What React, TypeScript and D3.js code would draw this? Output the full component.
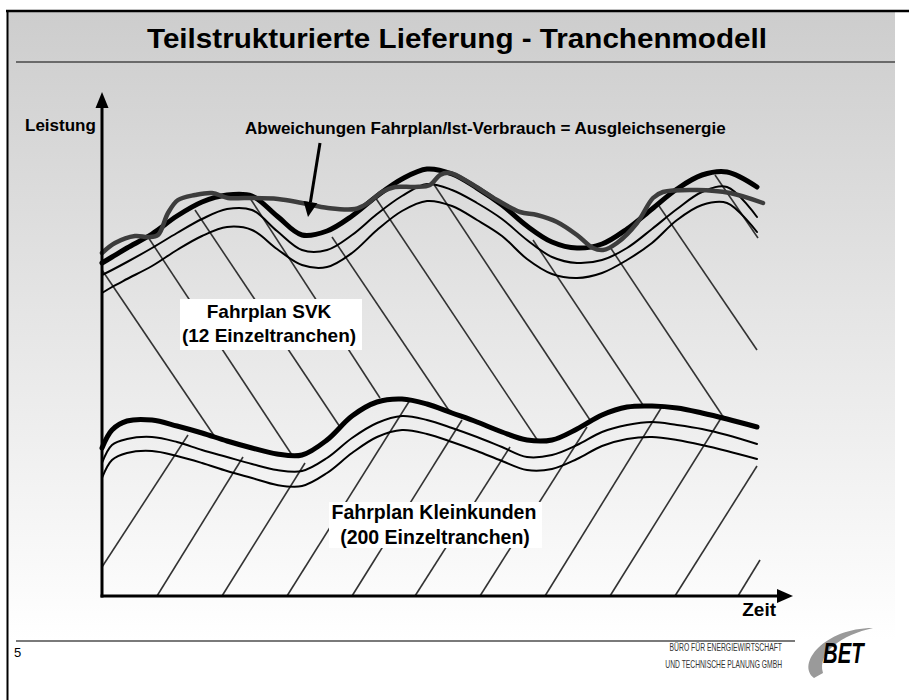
import * as d3 from 'd3'

// gemeinsame Stützstellen der Fahrplankurven (Zeit, willkürliche Einheiten)
const zeit = [0, 1, 2.5, 5, 7.5, 10, 12.5, 15, 17.5, 20, 22.5, 25, 27.5, 30, 32.5, 35, 37.5, 40, 42.5, 45, 47.5, 50, 52.5, 55, 57.5, 60, 62.5, 65.5]

// Fahrplan SVK: Summenlinie und zwei Tranchengrenzen darunter
const svkSumme = [33.3, 33.9, 34.8, 36.2, 38.0, 39.4, 40.1, 40.0, 38.0, 36.1, 36.5, 38.0, 40.0, 41.7, 42.7, 42.2, 40.8, 39.1, 37.0, 35.4, 34.8, 35.2, 36.7, 38.7, 40.7, 42.1, 42.4, 40.9]
const svkTrancheA = [32.1, 32.6, 33.4, 34.8, 36.3, 37.7, 38.7, 38.6, 36.5, 34.6, 34.6, 36.1, 38.2, 40.0, 41.2, 40.6, 39.3, 37.7, 35.6, 33.9, 33.3, 33.6, 34.8, 36.7, 38.7, 40.4, 40.9, 37.9]
const svkTrancheB = [30.3, 30.9, 31.7, 33.0, 34.6, 36.0, 36.9, 36.6, 34.7, 33.1, 32.9, 34.3, 36.6, 38.5, 39.5, 39.0, 37.6, 36.0, 33.7, 32.2, 31.8, 32.3, 33.6, 35.3, 37.6, 39.1, 39.3, 36.4]

// Fahrplan Kleinkunden
const kkSumme = [14.8, 16.6, 17.5, 17.6, 17.0, 16.3, 15.5, 14.8, 14.2, 14.1, 15.6, 18.0, 19.4, 19.7, 19.2, 18.3, 17.4, 16.4, 15.6, 15.6, 16.7, 18.1, 18.9, 19.0, 18.8, 18.3, 17.7, 16.9]
const kkTrancheA = [13.3, 15.1, 15.7, 15.9, 15.4, 14.6, 13.9, 13.2, 12.6, 12.5, 13.8, 15.8, 17.3, 18.0, 17.6, 16.8, 15.9, 14.9, 13.9, 14.1, 15.1, 16.4, 17.1, 17.4, 17.1, 16.7, 16.1, 15.2]
const kkTrancheB = [11.8, 13.6, 14.3, 14.5, 14.0, 13.3, 12.5, 11.8, 11.1, 11.0, 12.3, 14.3, 15.9, 16.6, 16.2, 15.4, 14.5, 13.5, 12.6, 12.7, 13.7, 15.0, 15.7, 15.9, 15.6, 15.1, 14.5, 13.7]

// Ist-Verbrauch (eigene Stützstellen)
const istZeit = [0, 1.3, 3.3, 4.6, 5.6, 6.6, 7.6, 9.3, 11.0, 12.6, 14.3, 17.6, 20.0, 22.6, 25.3, 26.6, 28.0, 29.3, 31.3, 32.8, 33.8, 34.8, 36.8, 39.5, 41.8, 43.5, 45.5, 47.5, 49.1, 50.1, 51.5, 53.5, 55.1, 56.1, 59.5, 62.8, 66.1]
const istLeistung = [34.3, 35.3, 36.0, 35.9, 36.1, 38.3, 39.6, 40.1, 40.3, 39.8, 39.8, 39.7, 39.3, 38.8, 38.7, 39.3, 40.4, 40.9, 40.9, 41.1, 42.1, 42.3, 41.3, 39.6, 38.4, 38.1, 37.4, 36.1, 34.8, 34.6, 35.3, 37.3, 39.8, 40.4, 40.6, 40.3, 39.3]

// Schraffur: [zeitVon, leistungVon, zeitBis, leistungBis]
const svkSchraffur = [
  [0, 32.6, 11.3, 15.9],
  [4.6, 35.9, 19.0, 14.1],
  [9.3, 38.6, 23.8, 16.9],
  [14.6, 40.1, 27.8, 19.8],
  [23.0, 35.9, 34.8, 18.4],
  [27.3, 39.9, 43.6, 15.5],
  [33.1, 41.3, 48.8, 17.6],
  [43.1, 35.6, 54.1, 19.1],
  [50.8, 34.9, 62.0, 18.1],
  [55.5, 39.3, 65.5, 24.6],
  [61.3, 42.1, 65.6, 35.8],
]
const kkSchraffur = [
  [0, 2.9, 8.6, 16.1],
  [5.5, 0, 14.1, 13.9],
  [12.0, 0, 20.3, 13.3],
  [18.5, 0, 30.8, 19.6],
  [25.0, 0, 36.0, 17.6],
  [31.3, 0, 40.8, 14.9],
  [37.8, 0, 48.5, 16.9],
  [44.3, 0, 56.1, 19.1],
  [50.8, 0, 62.1, 18.1],
  [57.3, 0, 65.5, 13.0],
  [63.6, 0, 65.8, 3.6],
]

// Pfeil zur Ausgleichsenergie: [zeit, leistung]
const pfeilVon = [21.8, 45.3]
const pfeilBis = [20.6, 37.9]

const font = "'Liberation Sans', Arial, sans-serif"

export default function App() {
  const x = d3.scaleLinear().domain([0, 69]).range([102, 792])
  const y = d3.scaleLinear().domain([0, 50]).range([596, 96])

  const kurve = d3
    .line<number>()
    .x((_, i) => x(zeit[i]))
    .y((d) => y(d))
    .curve(d3.curveCatmullRom.alpha(0.5))

  const istKurve = d3
    .line<number>()
    .x((_, i) => x(istZeit[i]))
    .y((d) => y(d))
    .curve(d3.curveCatmullRom.alpha(0.5))

  // pfeilspitze berechnen
  const [ax1, ay1] = [x(pfeilVon[0]), y(pfeilVon[1])]
  const [ax2, ay2] = [x(pfeilBis[0]), y(pfeilBis[1])]
  const len = Math.hypot(ax2 - ax1, ay2 - ay1)
  const ux = (ax2 - ax1) / len,
    uy = (ay2 - ay1) / len
  const head = 15,
    half = 7
  const bx = ax2 - ux * head,
    by = ay2 - uy * head
  const pfeilKopf = `M${ax2},${ay2}L${bx - uy * half},${by + ux * half}L${bx + uy * half},${by - ux * half}Z`

  const x0 = x(0),
    y0 = y(0)
  const xEnd = x(69.1),
    yEnd = y(50.4)

  return (
    <svg width={909} height={700} style={{ position: 'absolute', left: 0, top: 0 }} fontFamily={font}>
      <defs>
        <linearGradient id="bg" gradientUnits="userSpaceOnUse" x1={0} y1={12} x2={0} y2={640}>
          <stop offset="0" stopColor="#cdcdcd" />
          <stop offset="1" stopColor="#ffffff" />
        </linearGradient>
      </defs>
      <rect x={0} y={0} width={909} height={700} fill="#fff" />
      <rect x={8} y={12} width={887} height={688} fill="url(#bg)" />

      {/* rahmen */}
      <line x1={6} y1={11} x2={909} y2={11} stroke="#000" strokeWidth={2.5} />
      <line x1={7.5} y1={10} x2={7.5} y2={700} stroke="#000" strokeWidth={2} />

      <text x={457} y={48} textAnchor="middle" fontSize={28} fontWeight="bold" textLength={620} lengthAdjust="spacingAndGlyphs">
        Teilstrukturierte Lieferung - Tranchenmodell
      </text>
      <line x1={16} y1={62} x2={895} y2={62} stroke="#6a6a6a" strokeWidth={2} />

      {/* schraffur */}
      <g stroke="#333" strokeWidth={1.6}>
        {svkSchraffur.map((s, i) => (
          <line key={'s' + i} x1={x(s[0])} y1={y(s[1])} x2={x(s[2])} y2={y(s[3])} />
        ))}
        {kkSchraffur.map((s, i) => (
          <line key={'k' + i} x1={x(s[0])} y1={y(s[1])} x2={x(s[2])} y2={y(s[3])} />
        ))}
      </g>

      {/* fahrplankurven */}
      <g fill="none" stroke="#000" strokeLinecap="round">
        <path d={kurve(svkTrancheB) ?? ''} strokeWidth={2} />
        <path d={kurve(svkTrancheA) ?? ''} strokeWidth={2} />
        <path d={kurve(svkSumme) ?? ''} strokeWidth={5} />
        <path d={kurve(kkTrancheB) ?? ''} strokeWidth={2} />
        <path d={kurve(kkTrancheA) ?? ''} strokeWidth={2} />
        <path d={kurve(kkSumme) ?? ''} strokeWidth={5} />
      </g>
      <path d={istKurve(istLeistung) ?? ''} fill="none" stroke="#3d3d3d" strokeWidth={4.5} strokeLinecap="round" strokeLinejoin="round" />

      {/* achsen */}
      <line x1={x0} y1={y0 + 1.5} x2={x0} y2={yEnd + 14} stroke="#000" strokeWidth={3} />
      <path d={`M${x0},${yEnd}L${x0 - 6.5},${yEnd + 16}L${x0 + 6.5},${yEnd + 16}Z`} fill="#000" />
      <line x1={x0 - 1.5} y1={y0} x2={xEnd - 14} y2={y0} stroke="#000" strokeWidth={3} />
      <path d={`M${xEnd},${y0}L${xEnd - 16},${y0 - 7}L${xEnd - 16},${y0 + 7}Z`} fill="#000" />

      <text x={25} y={131} fontSize={17} fontWeight="bold">
        Leistung
      </text>
      <text x={776} y={616} fontSize={19} fontWeight="bold" textAnchor="end">
        Zeit
      </text>

      {/* annotation */}
      <text x={245} y={134} fontSize={17} fontWeight="bold">
        Abweichungen Fahrplan/Ist-Verbrauch = Ausgleichsenergie
      </text>
      <line x1={ax1} y1={ay1} x2={bx} y2={by} stroke="#000" strokeWidth={3} />
      <path d={pfeilKopf} fill="#000" />

      {/* beschriftungsboxen */}
      <rect x={180} y={299} width={182} height={51} fill="#fff" />
      <text x={269} y={318} fontSize={19} fontWeight="bold" textAnchor="middle">
        Fahrplan SVK
      </text>
      <text x={269} y={342} fontSize={19} fontWeight="bold" textAnchor="middle">
        (12 Einzeltranchen)
      </text>
      <rect x={329} y={502} width={213} height={46} fill="#fff" />
      <text x={434} y={519} fontSize={19.5} fontWeight="bold" textAnchor="middle">
        Fahrplan Kleinkunden
      </text>
      <text x={435} y={544} fontSize={19.5} fontWeight="bold" textAnchor="middle">
        (200 Einzeltranchen)
      </text>

      {/* fußzeile */}
      <line x1={16} y1={641} x2={795} y2={641} stroke="#7a7a7a" strokeWidth={2} />
      <text x={14} y={657} fontSize={13}>
        5
      </text>
      <g fill="#333" fontSize={10} textAnchor="end">
        <g transform="translate(782,651) scale(0.68,1)">
          <text x={0} y={0}>BÜRO FÜR ENERGIEWIRTSCHAFT</text>
        </g>
        <g transform="translate(782,668) scale(0.675,1)">
          <text x={0} y={0}>UND TECHNISCHE PLANUNG GMBH</text>
        </g>
      </g>
      <path d="M814,678 C796,664 824,628 873,628 C842,635 817,652 823,673 Z" fill="#9a9a9a" />
      <g transform="translate(823,663) scale(0.7,1)">
        <text x={0} y={0} fontSize={29} fontWeight="bold" fontStyle="italic">
          BET
        </text>
      </g>
    </svg>
  )
}
